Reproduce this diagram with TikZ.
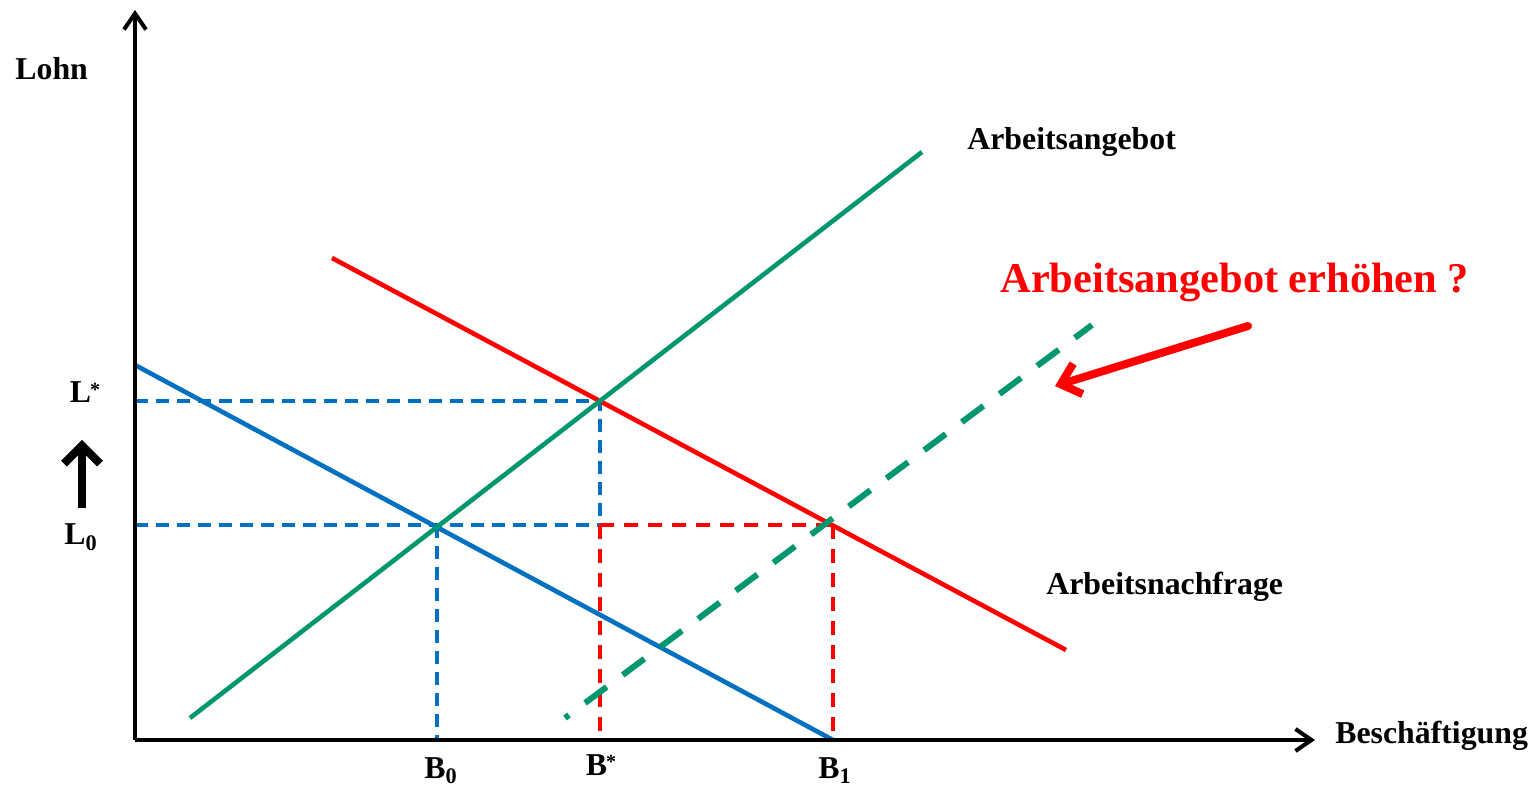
\documentclass[tikz,border=0pt]{standalone}
\usepackage{fontspec}
\setmainfont{Liberation Serif}
\usetikzlibrary{arrows.meta}
\definecolor{gr}{RGB}{0,150,110}
\definecolor{bl}{RGB}{0,112,192}
\definecolor{rd}{RGB}{255,0,0}
\begin{document}
\begin{tikzpicture}[x=0.5pt,y=-0.5pt,
  lab/.style={font=\fontsize{15.9}{18}\selectfont\bfseries, inner sep=0pt},
  biglab/.style={font=\fontsize{21.2}{24}\selectfont\bfseries, inner sep=0pt, text=rd},
  axis/.style={line width=2pt, -{Straight Barb[length=8pt,width=11pt,line width=2pt]}},
  curve/.style={line width=2.3pt},
  bdash/.style={bl, line width=1.8pt, dash pattern=on 6.5pt off 4pt},
  rdash/.style={rd, line width=1.8pt, dash pattern=on 7pt off 5pt},
  gdash/.style={gr, line width=3pt, dash pattern=on 13.5pt off 10pt, dash phase=11pt}]
\useasboundingbox (0,0) rectangle (1539,786);
% coordinates
\coordinate (O) at (135,740);
\coordinate (ytop) at (135,10);
\coordinate (xend) at (1315,740);
\coordinate (S0) at (190,718);
\coordinate (S1) at (922,152);
\coordinate (D0) at (332,258);
\coordinate (D1) at (1066,650);
\coordinate (N0) at (135,365);
\coordinate (N1) at (833,740);
\coordinate (G0) at (565,718);
\coordinate (G1) at (1092,325);
\coordinate (E0) at (437,525);
\coordinate (Es) at (600,401);
\coordinate (E1) at (833,525);
\coordinate (Ls) at (135,401);
\coordinate (Lz) at (135,525);
\coordinate (Bz) at (437,740);
\coordinate (Bs) at (600,740);
\coordinate (Bo) at (833,740);
\coordinate (Bm) at (600,525);
\coordinate (RA0) at (1248,326);
\coordinate (RA1) at (1055,386);
\coordinate (UA0) at (82,508);
\coordinate (UA1) at (82,440);
% dashed guides
\draw[bdash] (Ls) -- (Es) -- (Bm);
\draw[bdash] (Lz) -- (Bm);
\draw[bdash] (E0) -- (Bz);
\draw[rdash] (Bm) -- (E1);
\draw[rdash] (Bm) -- (Bs);
\draw[rdash] (E1) -- (Bo);
% curves
\draw[curve, bl] (N0) -- (N1);
\draw[curve, rd] (D0) -- (D1);
\draw[curve, gr] (S0) -- (S1);
\draw[gdash] (G0) -- (G1);
% axes
\draw[axis] (O) -- (ytop);
\draw[axis] (O) -- (xend);
% arrows
\draw[rd, line width=4pt, line cap=round, -{Straight Barb[length=9pt,width=16pt,line width=4pt]}] (RA0) -- (RA1);
\draw[line width=4pt, -{Straight Barb[length=9pt,width=18pt,line width=4pt]}] (UA0) -- (UA1);
% labels
\node[lab, anchor=base west] (lohn) at (15,80) {Lohn};
\node[lab, anchor=base] (lstar) at (85,403) {L\kern-0.5pt\raisebox{0.45ex}{\fontsize{10}{10}\selectfont*}};
\node[lab, anchor=base] (lzero) at (81,545) {L\textsubscript{0}};
\node[lab, anchor=base] (bzero) at (441,778) {B\textsubscript{0}};
\node[lab, anchor=base] (bstar) at (601,775) {B\kern-0.5pt\raisebox{0.45ex}{\fontsize{10}{10}\selectfont*}};
\node[lab, anchor=base] (bone) at (835,778) {B\textsubscript{1}};
\node[lab, anchor=base west] (besch) at (1335,743) {Beschäftigung};
\node[lab, anchor=base west] (angebot) at (967,150) {Arbeitsangebot};
\node[lab, anchor=base west] (nachfrage) at (1046,595) {Arbeitsnachfrage};
\node[biglab, anchor=base west] (erh) at (1000,293) {Arbeitsangebot erhöhen ?};
\end{tikzpicture}
\end{document}
